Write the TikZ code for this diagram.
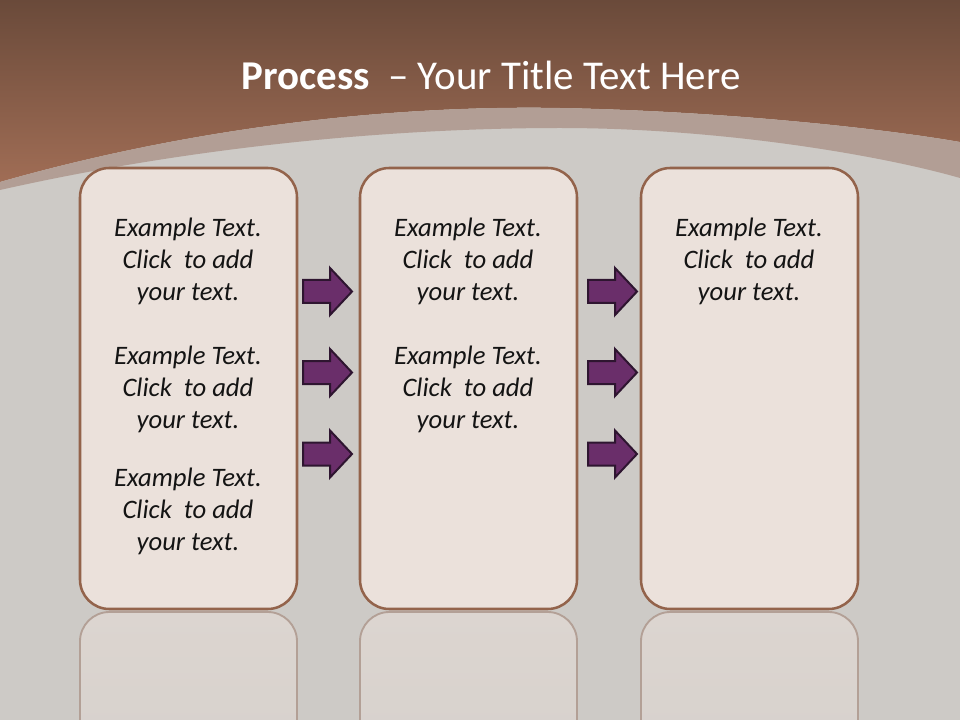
\documentclass[tikz,border=0pt]{standalone}
\usepackage{fontspec}
\setmainfont{Carlito}
\definecolor{bggray}{HTML}{CDCAC6}
\definecolor{browntop}{HTML}{6A4A3A}
\definecolor{brownbot}{HTML}{A06D55}
\definecolor{bandcol}{HTML}{B29E95}
\definecolor{boxfill}{HTML}{EBE1DB}
\definecolor{boxline}{HTML}{93634B}
\definecolor{reffill}{HTML}{DCD5D0}
\definecolor{refline}{HTML}{B3A096}
\definecolor{arrfill}{HTML}{6A2E6A}
\definecolor{arrline}{HTML}{2E1530}
\tikzset{
  procbox/.style={draw=boxline, line width=1.9pt, fill=boxfill, rounded corners=22pt},
  reflbox/.style={draw=refline, line width=1.4pt, top color=reffill, bottom color=bggray, rounded corners=22pt},
  bodytext/.style={font=\fontsize{20}{24}\selectfont\itshape, align=center, inner sep=0pt, text=black!92},
  titletext/.style={font=\fontsize{30.7}{36}\selectfont, text=white, inner sep=0pt},
  blockarrow/.pic={\draw[fill=arrfill, draw=arrline, line width=1.5pt, line join=miter]
     (-24.5,-11.5) -- (2.5,-11.5) -- (2.5,-23.5) -- (24.5,0) -- (2.5,23.5) -- (2.5,11.5) -- (-24.5,11.5) -- cycle;}
}
\begin{document}
\begin{tikzpicture}[x=0.75pt,y=-0.75pt]
\useasboundingbox (0,0) rectangle (960,720);
\clip (0,0) rectangle (960,720);
% background
\fill[bggray] (0,0) rectangle (960,720);
\shade[top color=browntop, bottom color=brownbot]
  (0,0) -- (960,0) -- (960,142) .. controls (880,128) and (720,111) .. (560,108)
  .. controls (400,105) and (200,125) .. (0,182) -- cycle;
\fill[bandcol]
  (0,182) .. controls (200,125) and (400,105) .. (560,108)
  .. controls (720,111) and (880,128) .. (960,142) -- (960,178)
  .. controls (880,155) and (720,128) .. (560,128)
  .. controls (400,128) and (200,145) .. (0,190) -- cycle;
% title
\node[titletext] (title) at (491,75) {\textbf{Process}\ \ – Your Title Text Here};
% reflections
\draw[reflbox] (80,612) rectangle (297,1053);
\draw[reflbox] (360,612) rectangle (577,1053);
\draw[reflbox] (641,612) rectangle (858,1053);
% boxes
\node[procbox, minimum width=217*0.75pt, minimum height=441*0.75pt, inner sep=0pt] (b1) at (188.5,388.5) {};
\node[procbox, minimum width=217*0.75pt, minimum height=441*0.75pt, inner sep=0pt] (b2) at (468.5,388.5) {};
\node[procbox, minimum width=217*0.75pt, minimum height=441*0.75pt, inner sep=0pt] (b3) at (749.5,388.5) {};
% texts
\node[bodytext] (t11) at (188,261) {Example Text.\\Click\ \ to add\\your text.};
\node[bodytext] (t12) at (188,389) {Example Text.\\Click\ \ to add\\your text.};
\node[bodytext] (t13) at (188,511) {Example Text.\\Click\ \ to add\\your text.};
\node[bodytext] (t21) at (468,261) {Example Text.\\Click\ \ to add\\your text.};
\node[bodytext] (t22) at (468,389) {Example Text.\\Click\ \ to add\\your text.};
\node[bodytext] (t31) at (749,261) {Example Text.\\Click\ \ to add\\your text.};
% arrows
\pic at (327.5,291.5) {blockarrow};
\pic at (327.5,372.5) {blockarrow};
\pic at (327.5,454) {blockarrow};
\pic at (612.5,291.5) {blockarrow};
\pic at (612.5,372.5) {blockarrow};
\pic at (612.5,454) {blockarrow};
\end{tikzpicture}
\end{document}
